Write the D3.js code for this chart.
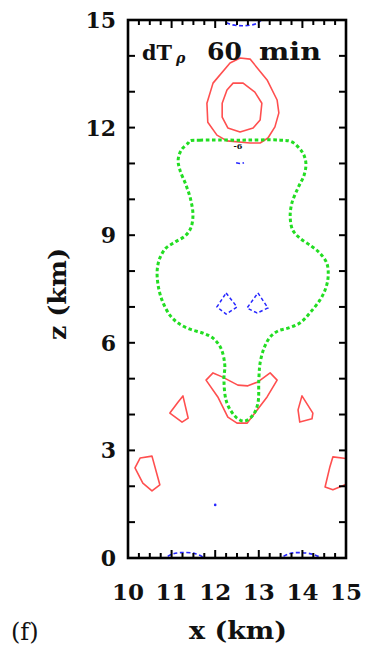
<!DOCTYPE html>
<html>
<head>
<meta charset="utf-8">
<script src="https://cdn.jsdelivr.net/npm/d3@7"></script>
<style>
  html, body { margin: 0; padding: 0; background: #fff; }
  svg { display: block; }
  text { font-family: "DejaVu Serif", "Liberation Serif", serif; fill: #111; }
</style>
</head>
<body>
<svg id="chart" width="366" height="656"></svg>
<script>
// Axis ticks (km)
const xTickValues = [10, 11, 12, 13, 14, 15];
const zTickValues = [0, 3, 6, 9, 12, 15];

// Zero contour of dT_rho (green dotted), points as [x km, z km]
const zeroContour = [
  [11.42, 11.63], [11.65, 11.65], [12.57, 11.65], [13.49, 11.65], [13.76, 11.60],
  [14.01, 11.29], [14.08, 11.01], [14.04, 10.68], [13.90, 10.32], [13.76, 9.90],
  [13.72, 9.51], [13.78, 9.14], [13.94, 8.92], [14.20, 8.70], [14.40, 8.50],
  [14.56, 8.22], [14.59, 7.83], [14.52, 7.47], [14.40, 7.19], [14.17, 6.83],
  [13.94, 6.55], [13.67, 6.41], [13.44, 6.33], [13.26, 6.16], [13.12, 5.85],
  [13.03, 5.44], [13.00, 4.96], [12.98, 4.32], [12.87, 3.99], [12.68, 3.82],
  [12.50, 3.90], [12.27, 4.32], [12.20, 4.96], [12.22, 5.38], [12.13, 5.85],
  [11.95, 6.13], [11.72, 6.27], [11.42, 6.38], [11.15, 6.55], [10.96, 6.77],
  [10.78, 7.19], [10.69, 7.61], [10.67, 8.03], [10.73, 8.36], [10.87, 8.64],
  [11.08, 8.81], [11.31, 8.98], [11.44, 9.20], [11.49, 9.56], [11.44, 9.98],
  [11.33, 10.40], [11.19, 10.82], [11.15, 11.10], [11.22, 11.37], [11.38, 11.57]
];

// Positive contours (red solid)
const warmTopOuter = [
  [12.57, 13.94], [12.80, 13.91], [13.19, 13.33], [13.42, 12.77], [13.46, 12.41],
  [13.37, 12.02], [13.21, 11.71], [13.03, 11.57], [12.80, 11.57], [12.27, 11.63],
  [12.04, 11.79], [11.83, 12.15], [11.81, 12.68], [11.95, 13.24], [12.34, 13.80]
];
const warmTopInner = [
  [12.41, 13.24], [12.64, 13.24], [12.91, 12.99], [13.07, 12.68], [13.03, 12.21],
  [12.87, 11.99], [12.57, 11.88], [12.29, 11.99], [12.16, 12.29], [12.16, 12.68],
  [12.27, 13.05]
];
const warmBase = [
  [11.95, 5.16], [12.16, 5.05], [12.52, 4.82], [12.75, 4.80], [12.98, 4.91],
  [13.26, 5.16], [13.42, 4.96], [13.19, 4.49], [12.91, 4.04], [12.73, 3.76],
  [12.50, 3.76], [12.29, 3.93], [12.06, 4.49], [11.79, 4.96]
];
const warmLeftMid = [
  [11.26, 4.52], [11.38, 3.90], [11.24, 3.79], [10.96, 4.04], [11.15, 4.35]
];
const warmRightMid = [
  [13.99, 4.52], [14.24, 4.04], [14.22, 3.88], [13.94, 3.79], [13.90, 4.13]
];
const warmLeftLow = [
  [10.28, 2.79], [10.55, 2.84], [10.73, 2.04], [10.55, 1.87], [10.34, 2.09], [10.16, 2.51]
];
const warmRightLow = [
  [14.70, 2.82], [15.10, 2.76], [15.10, 2.10], [14.70, 1.90], [14.52, 1.98], [14.63, 2.54]
];

// Negative contours (blue dashed)
const coolLeftKite = [[12.25, 7.39], [12.50, 7.00], [12.25, 6.80], [12.04, 7.00]];
const coolRightKite = [[12.98, 7.39], [13.21, 6.97], [12.96, 6.83], [12.73, 6.97]];
const coolTop = [[12.15, 15.05], [12.30, 14.90], [12.62, 14.84], [12.95, 14.90], [13.10, 15.05]];
const coolBottomLeft = [[10.78, -0.05], [11.00, 0.10], [11.20, 0.15], [11.55, 0.12], [11.83, -0.05]];
const coolBottomRight = [[13.44, -0.05], [13.70, 0.12], [13.95, 0.15], [14.25, 0.10], [14.52, -0.05]];
const coolSmall = [[12.48, 11.02], [12.57, 11.00], [12.66, 11.02]];
const coolDot = [[12.0, 1.48]];

const redContours = [warmTopOuter, warmTopInner, warmBase, warmLeftMid, warmRightMid, warmLeftLow, warmRightLow];
const blueLoops = [coolLeftKite, coolRightKite];
const blueOpen = [coolTop, coolBottomLeft, coolBottomRight, coolSmall];

const svg = d3.select("#chart");
const x = d3.scaleLinear().domain([10, 15]).range([128, 346]);
const z = d3.scaleLinear().domain([0, 15]).range([558, 20]);

svg.append("defs").append("clipPath").attr("id", "plot-clip")
  .append("rect").attr("x", x(10)).attr("y", z(15))
  .attr("width", x(15) - x(10)).attr("height", z(0) - z(15));

const plot = svg.append("g").attr("clip-path", "url(#plot-clip)");

const closedLine = d3.line().x(d => x(d[0])).y(d => z(d[1])).curve(d3.curveLinearClosed);
const smoothLine = d3.line().x(d => x(d[0])).y(d => z(d[1])).curve(d3.curveCatmullRomClosed.alpha(0.5));
const openLine = d3.line().x(d => x(d[0])).y(d => z(d[1])).curve(d3.curveCatmullRom.alpha(0.5));

// red positive contours
plot.selectAll("path.warm").data(redContours).join("path")
  .attr("class", "warm")
  .attr("d", closedLine)
  .attr("fill", "none")
  .attr("stroke", "#ff4f4f")
  .attr("stroke-width", 1.6)
  .attr("stroke-linejoin", "round");

// green zero contour
plot.append("path").datum(zeroContour)
  .attr("d", smoothLine)
  .attr("fill", "none")
  .attr("stroke", "#22dd22")
  .attr("stroke-width", 3)
  .attr("stroke-dasharray", "3.5,2.6");

// blue negative contours
plot.selectAll("path.cool-loop").data(blueLoops).join("path")
  .attr("class", "cool-loop")
  .attr("d", closedLine)
  .attr("fill", "none")
  .attr("stroke", "#2626ff")
  .attr("stroke-width", 1.5)
  .attr("stroke-dasharray", "3.5,2.5");

plot.selectAll("path.cool-open").data(blueOpen).join("path")
  .attr("class", "cool-open")
  .attr("d", openLine)
  .attr("fill", "none")
  .attr("stroke", "#2626ff")
  .attr("stroke-width", 1.6)
  .attr("stroke-dasharray", "4,2.5");

plot.selectAll("circle.cool-dot").data(coolDot).join("circle")
  .attr("class", "cool-dot")
  .attr("cx", d => x(d[0])).attr("cy", d => z(d[1])).attr("r", 1.3)
  .attr("fill", "#2626ff");

// contour label
plot.append("text")
  .attr("x", x(12.52)).attr("y", z(11.4))
  .attr("text-anchor", "middle")
  .attr("font-size", 8).attr("font-weight", "bold")
  .text("-6");

// ticks: left/right every 1 km, top/bottom every 0.25 km with longer integer ticks
const tickG = svg.append("g").attr("stroke", "#000").attr("stroke-width", 2);
const zMinor = d3.range(0, 15.001, 1);
tickG.selectAll("line.tl").data(zMinor).join("line")
  .attr("x1", x(10)).attr("x2", x(10) + 7)
  .attr("y1", d => z(d)).attr("y2", d => z(d));
tickG.selectAll("line.tr").data(zMinor).join("line")
  .attr("x1", x(15)).attr("x2", x(15) - 7)
  .attr("y1", d => z(d)).attr("y2", d => z(d));
const xMinor = d3.range(10, 15.001, 0.25);
const isMajor = d => Math.abs(d - Math.round(d)) < 1e-6;
tickG.selectAll("line.tb").data(xMinor).join("line")
  .attr("x1", d => x(d)).attr("x2", d => x(d))
  .attr("y1", z(0)).attr("y2", d => z(0) - (isMajor(d) ? 8 : 5));
tickG.selectAll("line.tt").data(xMinor).join("line")
  .attr("x1", d => x(d)).attr("x2", d => x(d))
  .attr("y1", z(15)).attr("y2", d => z(15) + (isMajor(d) ? 8 : 5));

// frame
svg.append("rect")
  .attr("x", x(10)).attr("y", z(15))
  .attr("width", x(15) - x(10)).attr("height", z(0) - z(15))
  .attr("fill", "none").attr("stroke", "#000").attr("stroke-width", 2.6);

// tick labels
svg.selectAll("text.xl").data(xTickValues).join("text")
  .attr("class", "xl")
  .attr("x", d => x(d)).attr("y", 600)
  .attr("text-anchor", "middle")
  .attr("font-size", 23).attr("font-weight", "bold")
  .text(d => d);
svg.selectAll("text.zl").data(zTickValues).join("text")
  .attr("class", "zl")
  .attr("x", 116).attr("y", d => z(d) + 8)
  .attr("text-anchor", "end")
  .attr("font-size", 22).attr("font-weight", "bold")
  .text(d => d);

// axis titles
svg.append("text")
  .attr("x", 238).attr("y", 639)
  .attr("text-anchor", "middle")
  .attr("font-size", 24).attr("font-weight", "bold")
  .attr("textLength", 98).attr("lengthAdjust", "spacingAndGlyphs")
  .text("x (km)");
svg.append("text")
  .attr("transform", "translate(66,294) rotate(-90)")
  .attr("text-anchor", "middle")
  .attr("font-size", 24).attr("font-weight", "bold")
  .attr("textLength", 92).attr("lengthAdjust", "spacingAndGlyphs")
  .text("z (km)");

svg.append("text")
  .attr("x", 11).attr("y", 640)
  .attr("font-size", 24)
  .text("(f)");

// panel title
const title = svg.append("text").attr("y", 60);
title.append("tspan").attr("x", 142).attr("font-size", 21).attr("font-weight", "bold")
  .attr("textLength", 30).attr("lengthAdjust", "spacingAndGlyphs").text("dT");
title.append("tspan").attr("x", 176).attr("font-size", 14).attr("font-style", "italic").attr("font-weight", "bold").attr("dy", 3).text("ρ");
title.append("tspan").attr("x", 207).attr("dy", -3).attr("font-size", 25).attr("font-weight", "bold")
  .attr("textLength", 35).attr("lengthAdjust", "spacingAndGlyphs").text("60");
title.append("tspan").attr("x", 259).attr("font-size", 25).attr("font-weight", "bold")
  .attr("textLength", 62).attr("lengthAdjust", "spacingAndGlyphs").text("min");
</script>
</body>
</html>
